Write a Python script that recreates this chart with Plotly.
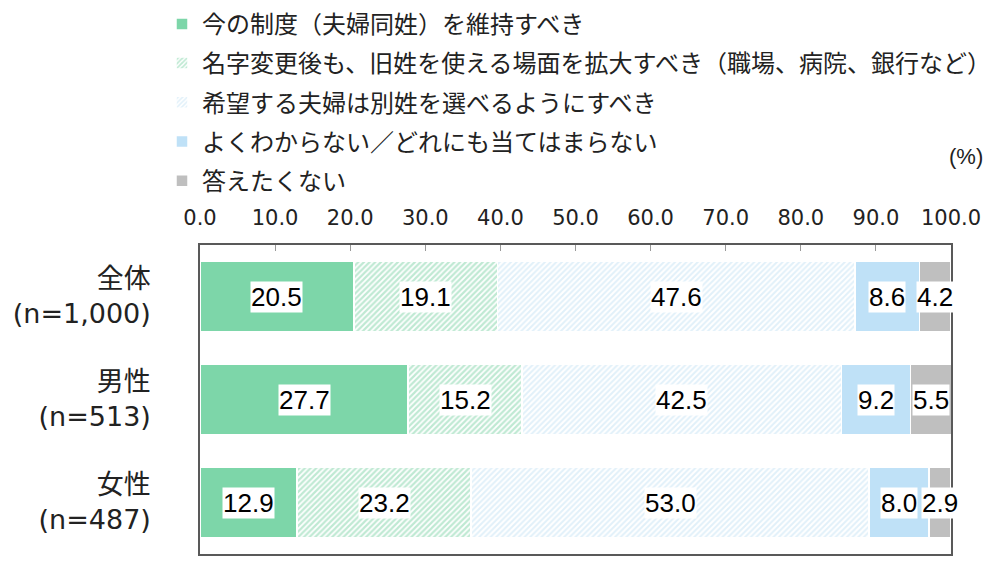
import plotly.graph_objects as go

# categories (top to bottom)
groups = ["全体<br>(n=1,000)", "男性<br>(n=513)", "女性<br>(n=487)"]

# answer options (legend order)
answers = [
    "今の制度（夫婦同姓）を維持すべき",
    "名字変更後も、旧姓を使える場面を拡大すべき（職場、病院、銀行など）",
    "希望する夫婦は別姓を選べるようにすべき",
    "よくわからない／どれにも当てはまらない",
    "答えたくない",
]

# percentages per answer, in the order of groups
keep_current = [20.5, 27.7, 12.9]
expand_old_name = [19.1, 15.2, 23.2]
allow_separate = [47.6, 42.5, 53.0]
dont_know = [8.6, 9.2, 8.0]
no_answer = [4.2, 5.5, 2.9]

x_ticks = [0, 10, 20, 30, 40, 50, 60, 70, 80, 90, 100]

series = [keep_current, expand_old_name, allow_separate, dont_know, no_answer]

FONT = "Arial, Liberation Sans, Noto Sans CJK JP"
WIDE = "DejaVu Sans, Noto Sans CJK JP"

styles = [
    dict(color="#7dd6a9"),
    dict(color="white", pattern=dict(shape="/", fgcolor="#80d3a7", bgcolor="white", size=4, solidity=0.55)),
    dict(color="white", pattern=dict(shape="/", fgcolor="#c4e2f4", bgcolor="white", size=4, solidity=0.5)),
    dict(color="#bfe1f7"),
    dict(color="#bfbfbf"),
]

fig = go.Figure()

for i, (name, vals, st) in enumerate(zip(answers, series, styles)):
    marker = dict(st)
    marker["line"] = dict(color="white", width=1.5)
    fig.add_trace(go.Bar(
        y=groups,
        x=vals,
        name=name,
        orientation="h",
        marker=marker,
        legendgroup=f"g{i}",
        width=0.68,
        hoverinfo="x+name",
    ))

# value labels with white boxes at the centre of each segment
annotations = []
for gi, g in enumerate(groups):
    left = 0.0
    for vals in series:
        v = vals[gi]
        annotations.append(dict(
            x=left + v / 2, y=gi, xref="x", yref="y",
            text=f"{v:.1f}", showarrow=False,
            font=dict(family=FONT, size=26, color="black"),
            bgcolor="white", borderpad=0,
        ))
        left += v

annotations.append(dict(
    x=1.045, y=1.285, xref="paper", yref="paper",
    text="(%)", showarrow=False, xanchor="right", yanchor="middle",
    font=dict(family=FONT, size=22, color="#222222"),
))

fig.update_layout(
    barmode="stack",
    width=1000, height=567,
    margin=dict(l=192, r=57, t=237, b=21, autoexpand=False),
    plot_bgcolor="white", paper_bgcolor="white",
    font=dict(family=FONT, color="#222222"),
    annotations=annotations,
    legend=dict(
        x=-0.0506, y=1.787, xanchor="left", yanchor="top",
        traceorder="grouped", tracegroupgap=5,
        bgcolor="rgba(0,0,0,0)",
        font=dict(size=24, color="#222222"),
        itemwidth=30,
    ),
    showlegend=True,
)

fig.update_xaxes(
    side="top", range=[0, 100], tickvals=x_ticks,
    ticktext=[f"{t:.1f}" for t in x_ticks],
    ticks="inside", ticklen=6, tickcolor="#999999",
    showline=True, linecolor="#595959", linewidth=1.5, mirror=True,
    showgrid=False, zeroline=False,
    tickfont=dict(family=WIDE, size=21, color="#222222"),
    ticklabelstandoff=10,
)
fig.update_yaxes(
    type="category", autorange="reversed",
    showline=True, linecolor="#595959", linewidth=1.5, mirror=True,
    showgrid=False, ticks="",
    tickfont=dict(family=WIDE, size=27, color="#222222"),
    ticklabelstandoff=42,
)

fig.write_html("out.html")
